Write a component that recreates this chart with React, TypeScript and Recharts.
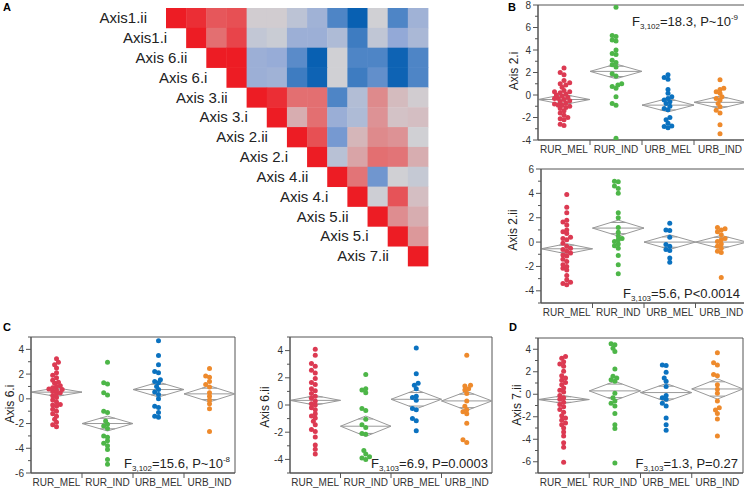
import React from "react";
import {
  ScatterChart,
  Scatter,
  XAxis,
  YAxis,
  ReferenceLine,
  ReferenceArea,
} from "recharts";

const FONT = '"Liberation Sans", Arial, sans-serif';
const AX = "#555";

const categories = ["RUR_MEL", "RUR_IND", "URB_MEL", "URB_IND"];
const groupColors = ["#dc3a52", "#4db648", "#0b72c0", "#ee8a2c"];

// panel A: correlation matrix (upper triangle, row by row)
const heatLabels = [
  "Axis1.ii", "Axis1.i", "Axis 6.ii", "Axis 6.i", "Axis 3.ii", "Axis 3.i", "Axis 2.ii",
  "Axis 2.i", "Axis 4.ii", "Axis 4.i", "Axis 5.ii", "Axis 5.i", "Axis 7.ii",
];
const corrRows = [
  [1, 0.9, 0.68, 0.72, 0.02, 0.02, -0.15, -0.35, -0.72, -0.97, 0.0, -0.72, -0.35],
  [1, 0.55, 0.78, -0.1, -0.05, -0.38, -0.38, -0.25, -0.78, -0.12, -0.45, -0.28],
  [1, 1, -0.38, -0.42, -0.68, -0.97, 0.0, -0.72, -0.72, -0.95, -0.72],
  [1, -0.38, -0.35, -0.78, -0.95, 0.0, -0.78, -0.65, -0.95, -0.72],
  [1, 0.9, 0.55, 0.55, -0.72, -0.22, 0.4, 0.12, 0.02],
  [1, 0.2, 0.55, -0.4, -0.25, 0.35, 0.08, 0.1],
  [1, 0.72, -0.58, 0.15, 0.4, 0.35, 0.0],
  [1, -0.18, 0.25, 0.55, 0.52, 0.2],
  [1, 0.52, -0.6, 0.0, -0.08],
  [1, -0.02, 0.7, 0.1],
  [1, 0.38, 0.2],
  [1, 0.32],
  [1],
];

// panel B top: Axis 2.i
const a2iRurMel = [2.4, 2.0, 1.8, 1.3, 1.1, 1.0, 0.9, 0.7, 0.4, 0.3, 0.3, 0.2, 0.1, 0.0, -0.1, -0.2, -0.3, -0.3, -0.4, -0.5, -0.6, -0.7, -0.8, -0.9, -0.9, -1.0, -1.1, -1.2, -1.4, -1.6, -1.8, -2.0, -2.1, -2.2, -2.6, -2.7];
const a2iRurInd = [7.8, 5.3, 5.2, 4.9, 4.8, 4.0, 3.7, 3.6, 3.1, 2.9, 2.7, 2.5, 1.9, 1.7, 1.0, 0.9, 0.75, 0.6, -0.15, -0.75, -0.9, -3.85];
const a2iUrbMel = [1.8, 1.55, 1.4, 0.5, 0.15, -0.15, -0.3, -0.45, -0.6, -0.75, -1.0, -1.2, -1.3, -2.0, -2.2, -2.5, -2.75, -2.8, -2.9];
const a2iUrbInd = [1.35, 0.6, 0.5, 0.3, 0.15, -0.15, -0.3, -0.45, -0.75, -1.05, -1.35, -1.6, -2.65, -3.45];
const a2iMeans = [-0.4, 2.1, -0.9, -0.65];
const a2iCI = [0.45, 0.65, 0.6, 0.55];

// panel B bottom: Axis 2.ii
const a2iiRurMel = [3.9, 2.85, 2.4, 1.8, 1.65, 1.4, 1.0, 0.85, 0.7, 0.4, 0.3, 0.2, -0.1, -0.35, -0.5, -0.6, -0.75, -0.9, -1.05, -1.15, -1.4, -1.6, -1.85, -2.0, -2.15, -2.3, -2.75, -3.1, -3.3, -3.4, -3.5];
const a2iiRurInd = [5.0, 4.95, 4.6, 4.4, 4.0, 2.4, 2.0, 1.2, 0.8, 0.5, 0.3, 0.2, 0.05, -0.15, -0.3, -0.5, -1.1, -1.85, -2.6];
const a2iiUrbMel = [1.55, 1.0, 0.95, 0.4, -0.2, -0.35, -0.6, -0.7, -1.3, -1.65];
const a2iiUrbInd = [1.2, 1.1, 1.0, 0.85, 0.6, 0.3, 0.2, 0.05, -0.15, -0.35, -0.5, -0.75, -0.85, -2.9];
const a2iiMeans = [-0.55, 1.15, 0.0, 0.0];
const a2iiCI = [0.42, 0.65, 0.6, 0.55];

// panel C left: Axis 6.i
const a6iRurMel = [3.25, 2.95, 2.75, 2.5, 2.1, 1.9, 1.7, 1.5, 1.35, 1.25, 1.05, 1.0, 0.9, 0.8, 0.75, 0.7, 0.6, 0.5, 0.4, 0.25, 0.1, -0.1, -0.25, -0.45, -0.5, -0.6, -0.85, -1.0, -1.2, -1.4, -1.65, -1.9, -2.1, -2.25];
const a6iRurInd = [2.95, 1.3, 1.2, 0.5, 0.3, -1.0, -1.1, -1.8, -2.05, -2.2, -2.4, -3.0, -3.1, -3.4, -3.6, -3.8, -4.1, -4.9, -5.3];
const a6iUrbMel = [4.7, 3.5, 2.75, 2.2, 2.1, 1.55, 1.4, 1.3, 1.0, 0.75, 0.55, 0.35, 0.0, -0.6, -0.7, -1.1, -1.4, -1.5];
const a6iUrbInd = [2.45, 1.85, 1.75, 1.4, 1.15, 0.95, 0.5, 0.2, -0.1, -0.4, -0.8, -2.65];
const a6iMeans = [0.54, -2.0, 0.75, 0.4];
const a6iCI = [0.35, 0.6, 0.6, 0.65];

// panel C right: Axis 6.ii
const a6iiRurMel = [4.1, 3.65, 3.05, 2.85, 2.55, 2.35, 1.95, 1.65, 1.5, 1.2, 1.05, 0.85, 0.65, 0.5, 0.3, 0.1, 0.0, -0.2, -0.35, -0.65, -0.8, -0.95, -1.2, -1.45, -1.8, -1.95, -2.35, -2.95, -3.25, -3.6];
const a6iiRurInd = [2.25, 1.2, 1.1, 0.9, -0.25, -0.4, -1.05, -1.45, -1.65, -2.1, -2.15, -3.35, -3.6, -3.8, -3.9, -4.0];
const a6iiUrbMel = [4.2, 2.3, 1.6, 1.45, 1.2, 0.65, 0.55, 0.35, -0.25, -0.35, -1.0, -1.15, -1.9];
const a6iiUrbInd = [3.65, 1.45, 1.4, 1.2, 1.1, 0.85, 0.3, -0.1, -0.35, -0.5, -0.65, -1.35, -2.55, -2.75];
const a6iiMeans = [0.34, -1.56, 0.42, 0.3];
const a6iiCI = [0.35, 0.75, 0.7, 0.7];

// panel D: Axis 7.ii
const a7iiRurMel = [3.35, 3.2, 2.9, 2.7, 2.5, 2.05, 1.65, 1.45, 1.25, 1.05, 0.85, 0.55, 0.35, 0.2, -0.1, -0.3, -0.45, -0.7, -0.9, -1.1, -1.35, -1.6, -1.9, -2.1, -2.3, -2.55, -2.7, -3.0, -3.35, -3.7, -4.3, -4.7, -6.05];
const a7iiRurInd = [4.5, 4.4, 4.1, 3.8, 2.25, 1.6, 1.45, 1.3, 1.15, 0.1, -0.3, -0.6, -0.8, -1.05, -1.7, -2.7, -3.05, -6.1];
const a7iiUrbMel = [2.6, 2.55, 1.95, 1.45, 1.15, 0.7, -0.1, -0.3, -0.45, -0.8, -1.05, -2.1, -2.7, -3.2];
const a7iiUrbInd = [3.7, 2.8, 2.6, 1.75, 1.65, 0.85, 0.45, 0.1, -0.6, -1.2, -1.4, -1.7, -2.2, -3.7];
const a7iiMeans = [-0.47, 0.3, 0.15, 0.47];
const a7iiCI = [0.35, 0.85, 0.8, 0.9];

const mix = (a: number[], b: number[], t: number) =>
  a.map((v, i) => Math.round(v + (b[i] - v) * t));

function corrColor(r: number) {
  const gray = [208, 208, 212];
  const redMid = [226, 120, 122];
  const red = [237, 28, 36];
  const blueMid = [140, 165, 215];
  const blue = [0, 92, 176];
  let c: number[];
  if (r >= 0) c = r < 0.5 ? mix(gray, redMid, r / 0.5) : mix(redMid, red, (r - 0.5) / 0.5);
  else {
    const a = -r;
    c = a < 0.5 ? mix(gray, blueMid, a / 0.5) : mix(blueMid, blue, (a - 0.5) / 0.5);
  }
  return `rgb(${c.join(",")})`;
}

const HEAT_W = 262;
const HEAT_H = 258;

function Heatmap() {
  const cells = corrRows.flatMap((row, i) =>
    row.map((r, k) => ({ x: i + k + 0.5, y: i + 0.5, r, row: i, col: i + k }))
  );
  const cw = HEAT_W / 13;
  const ch = HEAT_H / 13;
  const white = { stroke: "#fff", strokeWidth: 1, ifOverflow: "visible" as const };
  return (
    <div style={{ position: "absolute", left: 0, top: 0 }}>
      <ScatterChart width={440} height={280} margin={{ top: 8, right: 12, left: 166, bottom: 14 }}>
        <XAxis type="number" dataKey="x" domain={[0, 13]} hide />
        <YAxis type="number" dataKey="y" domain={[0, 13]} reversed hide />
        <Scatter
          data={cells}
          isAnimationActive={false}
          shape={(p: any) => (
            <g>
              <rect
                x={p.cx - cw / 2}
                y={p.cy - ch / 2}
                width={cw + 0.4}
                height={ch + 0.4}
                fill={corrColor(p.payload.r)}
              />
              {p.payload.row === p.payload.col && (
                <text
                  x={p.cx - cw / 2 - 19}
                  y={p.cy}
                  dy="0.35em"
                  textAnchor="end"
                  fontSize={15}
                  fill="#222"
                  fontFamily={FONT}
                >
                  {heatLabels[p.payload.row]}
                </text>
              )}
            </g>
          )}
        />
        <ReferenceLine segment={[{ x: 4, y: 0 }, { x: 4, y: 4 }]} {...white} />
        <ReferenceLine segment={[{ x: 4, y: 4 }, { x: 8, y: 4 }]} {...white} />
        <ReferenceLine segment={[{ x: 8, y: 0 }, { x: 8, y: 8 }]} {...white} />
        <ReferenceLine segment={[{ x: 8, y: 8 }, { x: 13, y: 8 }]} {...white} />
      </ScatterChart>
    </div>
  );
}

// spread dots sideways so they don't pile up (simple beeswarm)
function swarm(vals: number[], g: number, ux: number, uy: number) {
  const placed: { x: number; y: number }[] = [];
  const sorted = [...vals].sort((a, b) => a - b);
  const step = 1.9;
  for (const v of sorted) {
    const py = v * uy;
    let off = 0;
    for (let k = 0; k < 30; k++) {
      const cand = (k % 2 === 0 ? 1 : -1) * Math.ceil(k / 2) * step;
      if (placed.every((p) => Math.hypot(p.x - cand, p.y - py) >= 3.6)) {
        off = cand;
        break;
      }
    }
    placed.push({ x: off, y: py });
  }
  return placed.map((p) => ({ x: g + 0.5 + p.x / ux, y: p.y / uy }));
}

const XTick = (p: any) => {
  const v = p.payload.value;
  if (Number.isInteger(v))
    return <line x1={p.x} x2={p.x} y1={p.y} y2={p.y + 5} stroke={AX} />;
  return (
    <text x={p.x} y={p.y + 13} textAnchor="middle" fontSize={10} fill="#333" fontFamily={FONT}>
      {categories[Math.floor(v)]}
    </text>
  );
};

const YTick = (p: any) => {
  const v = p.payload.value;
  const major = v % 2 === 0;
  return (
    <g>
      <line x1={p.x} x2={p.x - (major ? 5 : 3)} y1={p.y} y2={p.y} stroke={AX} />
      {major && (
        <text x={p.x - 7} y={p.y} dy="0.35em" textAnchor="end" fontSize={10} fill="#333" fontFamily={FONT}>
          {v}
        </text>
      )}
    </g>
  );
};

interface PanelProps {
  left: number;
  top: number;
  w: number;
  h: number;
  domain: [number, number];
  groups: number[][];
  means: number[];
  ci: number[];
}

function DotPanel({ left, top, w, h, domain, groups, means, ci }: PanelProps) {
  const ticks: number[] = [];
  for (let v = domain[0]; v <= domain[1]; v++) ticks.push(v);
  const uy = h / (domain[1] - domain[0]);
  const ux = w / 4;
  const points = groups.map((vals, g) => swarm(vals, g, ux, uy));
  const s = 0.5 * (1 - Math.SQRT1_2);
  const padTop = 8;

  return (
    <div style={{ position: "absolute", left: left - 40, top: top - padTop }}>
      <ScatterChart
        width={w + 42}
        height={h + padTop + 30}
        margin={{ top: padTop, right: 2, left: 0, bottom: 0 }}
      >
        <XAxis
          type="number"
          dataKey="x"
          domain={[0, 4]}
          ticks={[0.5, 1, 1.5, 2, 2.5, 3, 3.5]}
          interval={0}
          tick={XTick}
          tickLine={false}
          tickSize={0}
          tickMargin={0}
          axisLine={{ stroke: AX }}
          height={30}
          allowDataOverflow
        />
        <YAxis
          type="number"
          dataKey="y"
          domain={domain}
          ticks={ticks}
          interval={0}
          tick={YTick}
          tickLine={false}
          tickSize={0}
          tickMargin={0}
          axisLine={{ stroke: AX }}
          width={40}
          allowDataOverflow
        />
        <ReferenceArea
          x1={0}
          x2={4}
          y1={domain[0]}
          y2={domain[1]}
          fill="none"
          stroke={AX}
          ifOverflow="visible"
        />
        {means.map((m, g) => {
          const c = g + 0.5;
          const hh = ci[g];
          const k = hh * Math.SQRT1_2;
          const segs = [
            [g, m, c, m + hh],
            [c, m + hh, g + 1, m],
            [g + 1, m, c, m - hh],
            [c, m - hh, g, m],
            [g, m, g + 1, m],
            [c - s, m + k, c + s, m + k],
            [c - s, m - k, c + s, m - k],
          ];
          return segs.map((sg, i) => (
            <ReferenceLine
              key={`d${g}-${i}`}
              segment={[
                { x: sg[0], y: sg[1] },
                { x: sg[2], y: sg[3] },
              ]}
              stroke="#999"
              strokeWidth={1}
              ifOverflow="visible"
            />
          ));
        })}
        {points.map((pts, g) => (
          <Scatter
            key={`s${g}`}
            data={pts}
            isAnimationActive={false}
            shape={(p: any) => <circle cx={p.cx} cy={p.cy} r={2.5} fill={groupColors[g]} />}
          />
        ))}
      </ScatterChart>
    </div>
  );
}

function YLabel({ x, y, text }: { x: number; y: number; text: string }) {
  return (
    <div
      style={{
        position: "absolute",
        left: x,
        top: y,
        transform: "translate(-50%, -50%) rotate(-90deg)",
        whiteSpace: "nowrap",
        fontSize: 12,
        lineHeight: "14px",
        color: "#222",
      }}
    >
      {text}
    </div>
  );
}

function Stat({ right, baseline, df, f, p }: { right: number; baseline: number; df: string; f: string; p: React.ReactNode }) {
  return (
    <div
      style={{
        position: "absolute",
        right: 744 - right,
        top: baseline - 12,
        whiteSpace: "nowrap",
        fontSize: 13,
        lineHeight: "15px",
        color: "#222",
      }}
    >
      F<span style={{ fontSize: 8, position: "relative", top: 3 }}>{df}</span>={f}, {p}
    </div>
  );
}

const sup = (t: string) => <span style={{ fontSize: 8, position: "relative", top: -6 }}>{t}</span>;

function Letter({ x, y, t }: { x: number; y: number; t: string }) {
  return (
    <div style={{ position: "absolute", left: x, top: y, fontSize: 11, fontWeight: "bold", lineHeight: "12px" }}>
      {t}
    </div>
  );
}

export default function App() {
  return (
    <div
      style={{
        position: "absolute",
        left: 0,
        top: 0,
        width: 744,
        height: 490,
        overflow: "hidden",
        background: "#fff",
        fontFamily: FONT,
      }}
    >
      <Heatmap />
      <DotPanel
        left={538} top={5} w={208} h={135} domain={[-4, 8]}
        groups={[a2iRurMel, a2iRurInd, a2iUrbMel, a2iUrbInd]} means={a2iMeans} ci={a2iCI}
      />
      <DotPanel
        left={541} top={169} w={206} h={134} domain={[-5, 6]}
        groups={[a2iiRurMel, a2iiRurInd, a2iiUrbMel, a2iiUrbInd]} means={a2iiMeans} ci={a2iiCI}
      />
      <DotPanel
        left={31} top={337} w={204} h={136} domain={[-6, 5]}
        groups={[a6iRurMel, a6iRurInd, a6iUrbMel, a6iUrbInd]} means={a6iMeans} ci={a6iCI}
      />
      <DotPanel
        left={290} top={337} w={202} h={136} domain={[-5, 5]}
        groups={[a6iiRurMel, a6iiRurInd, a6iiUrbMel, a6iiUrbInd]} means={a6iiMeans} ci={a6iiCI}
      />
      <DotPanel
        left={538} top={338} w={205} h={135} domain={[-7, 5]}
        groups={[a7iiRurMel, a7iiRurInd, a7iiUrbMel, a7iiUrbInd]} means={a7iiMeans} ci={a7iiCI}
      />

      <YLabel x={514} y={71} text="Axis 2.i" />
      <YLabel x={513} y={230} text="Axis 2.ii" />
      <YLabel x={10} y={404} text="Axis 6.i" />
      <YLabel x={265} y={407} text="Axis 6.ii" />
      <YLabel x={517} y={405} text="Axis 7.ii" />

      <Stat right={738} baseline={26} df="3,102" f="18.3" p={<>P~10{sup("-9")}</>} />
      <Stat right={740} baseline={298} df="3,103" f="5.6" p="P<0.0014" />
      <Stat right={230} baseline={468} df="3,102" f="15.6" p={<>P~10{sup("-8")}</>} />
      <Stat right={488} baseline={468} df="3,103" f="6.9" p="P=0.0003" />
      <Stat right={738} baseline={468} df="3,103" f="1.3" p="P=0.27" />

      <Letter x={3} y={1} t="A" />
      <Letter x={508} y={1} t="B" />
      <Letter x={3} y={321} t="C" />
      <Letter x={509} y={321} t="D" />
    </div>
  );
}
